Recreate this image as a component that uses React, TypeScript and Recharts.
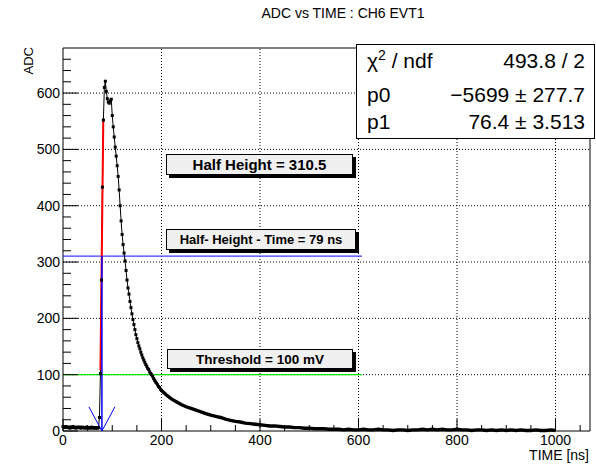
import React from 'react'
import { LineChart, Line, XAxis, YAxis, ReferenceLine, ReferenceArea } from 'recharts'

// waveform sampled every 2 ns from 0 to 200 ns
const PULSE_STEP_NS = 2
const PULSE_ADC = [
  8, 7, 6, 8, 7, 6, 7, 5, 7, 6,
  8, 6, 7, 5, 6, 7, 6, 7, 5, 6,
  7, 6, 5, 6, 7, 5, 6, 6, 5, 7,
  6, 5, 6, 5, 6, 5, 6, 24, 102, 268,
  433, 552, 610, 621, 603, 590, 584, 582, 586, 589,
  560, 540, 522, 504, 488, 471, 452, 428, 400, 373,
  349, 331, 316, 302, 285, 268, 254, 243, 230, 219,
  208, 198, 189, 180, 171, 164, 157, 151, 146, 140,
  135, 130, 126, 122, 118, 115, 111, 109, 105, 102,
  100, 97, 93, 90, 87, 85, 82, 79, 77, 74,
  72,
]

// tail, read every 10 ns from 200 to 1000 ns
const TAIL_START_NS = 200
const TAIL_STEP_NS = 10
const TAIL_ADC = [
  72, 64, 57, 52, 47, 43, 40, 37, 34, 31,
  28, 26, 24, 21, 19, 17, 16, 14, 13, 12,
  11, 10, 9, 9, 8, 7, 7, 6, 6, 5,
  5, 4, 4, 4, 3, 3, 3, 2, 3, 2,
  2, 3, 2, 2, 3, 2, 2, 1, 2, 2,
  1, 2, 2, 3, 2, 3, 2, 3, 2, 2,
  3, 2, 2, 1, 2, 2, 1, 2, 1, 2,
  1, 2, 1, 2, 1, 1, 2, 1, 1, 2,
  1,
]

// linear fit on the rising edge
const FIT_TIME = [76, 81.8]
const FIT_ADC = [108, 551]

const HALF_HEIGHT = 310.5
const HALF_TIME = 79
const THRESHOLD = 100
const MARK_END_NS = 607

const X_MAJOR = [0, 200, 400, 600, 800, 1000]
const X_TICKS = [0, 50, 100, 150, 200, 250, 300, 350, 400, 450, 500, 550, 600, 650, 700, 750, 800, 850, 900, 950, 1000, 1050]
const Y_MAJOR = [0, 100, 200, 300, 400, 500, 600]
const Y_TICKS = [
  0, 20, 40, 60, 80, 100, 120, 140, 160, 180, 200, 220, 240, 260, 280, 300, 320, 340,
  360, 380, 400, 420, 440, 460, 480, 500, 520, 540, 560, 580, 600, 620, 640, 660,
]

const X_MAX = 1070
const Y_MAX = 680

const FONT = '"Liberation Sans", Arial, Helvetica, sans-serif'

const pulseData = PULSE_ADC.map((adc, i) => ({ t: i * PULSE_STEP_NS, adc }))
const tailData = TAIL_ADC.map((adc, i) => ({ t: TAIL_START_NS + i * TAIL_STEP_NS, adc }))
const fitData = FIT_TIME.map((t, i) => ({ t, adc: FIT_ADC[i] }))

function renderXTick(props: any) {
  const { x, y, payload, index } = props
  const v = payload.value
  const major = X_MAJOR.includes(v)
  return (
    <g key={'xt' + index}>
      <line x1={x} x2={x} y1={y} y2={y - (major ? 12 : 6)} stroke="#000" />
      {major && (
        <text x={x} y={y + 14} textAnchor="middle" fontSize={14} fill="#000">
          {v}
        </text>
      )}
    </g>
  )
}

function renderYTick(props: any) {
  const { x, y, payload, index } = props
  const v = payload.value
  const major = Y_MAJOR.includes(v)
  return (
    <g key={'yt' + index}>
      <line x1={x} x2={x + (major ? 15 : 8)} y1={y} y2={y} stroke="#000" />
      {major && (
        <text x={x - 3} y={y + 5} textAnchor="end" fontSize={14} fill="#000">
          {v}
        </text>
      )}
    </g>
  )
}

function SquareDot(props: any) {
  const { cx, cy, index } = props
  if (cx == null || cy == null) return <g key={index} />
  return <rect key={index} x={cx - 1.5} y={cy - 1.5} width={3} height={3} fill="#000" />
}

function LabelBox({ left, top, width, height, fontSize, children }: any) {
  return (
    <div
      style={{
        position: 'absolute',
        left,
        top,
        width,
        height,
        boxSizing: 'border-box',
        border: '1px solid #000',
        background: '#f0f0f0',
        boxShadow: '3px 3px 0 #000',
        display: 'flex',
        alignItems: 'center',
        justifyContent: 'center',
        fontWeight: 700,
        fontSize,
        color: '#000',
        whiteSpace: 'nowrap',
      }}
    >
      {children}
    </div>
  )
}

function StatRow({ top, label, value }: any) {
  return (
    <div
      style={{
        position: 'absolute',
        left: 367,
        width: 218,
        top,
        height: 21,
        lineHeight: '21px',
        fontSize: 21,
        display: 'flex',
        justifyContent: 'space-between',
        whiteSpace: 'nowrap',
      }}
    >
      <span>{label}</span>
      <span>{value}</span>
    </div>
  )
}

export default function App() {
  return (
    <div
      style={{
        position: 'absolute',
        left: 0,
        top: 0,
        width: 596,
        height: 466,
        background: '#fff',
        fontFamily: FONT,
        color: '#000',
      }}
    >
      <LineChart width={596} height={466} margin={{ top: 48, right: 6, bottom: 0, left: 0 }}>
        <XAxis
          type="number"
          dataKey="t"
          domain={[0, X_MAX]}
          ticks={X_TICKS}
          interval={0}
          tick={renderXTick}
          tickLine={false}
          tickSize={0}
          tickMargin={0}
          axisLine={false}
          height={35}
        />
        <YAxis
          type="number"
          domain={[0, Y_MAX]}
          ticks={Y_TICKS}
          interval={0}
          tick={renderYTick}
          tickLine={false}
          tickSize={0}
          tickMargin={0}
          axisLine={false}
          width={63}
        />
        {X_MAJOR.filter((v) => v > 0).map((v) => (
          <ReferenceLine key={'gx' + v} x={v} stroke="#000" strokeDasharray="1 2" />
        ))}
        {Y_MAJOR.filter((v) => v > 0).map((v) => (
          <ReferenceLine key={'gy' + v} y={v} stroke="#000" strokeDasharray="1 2" />
        ))}
        <ReferenceArea x1={0} x2={X_MAX} y1={0} y2={Y_MAX} fill="#fff" fillOpacity={0} stroke="#000" strokeWidth={1} />
        <ReferenceLine
          segment={[{ x: 0, y: THRESHOLD }, { x: MARK_END_NS, y: THRESHOLD }]}
          stroke="#00e600"
          strokeWidth={1.3}
        />
        <ReferenceLine
          segment={[{ x: 0, y: HALF_HEIGHT }, { x: MARK_END_NS, y: HALF_HEIGHT }]}
          stroke="#3c3cff"
          strokeWidth={1.3}
        />
        <Line
          data={tailData}
          dataKey="adc"
          stroke="#000"
          strokeWidth={3.4}
          dot={false}
          isAnimationActive={false}
        />
        <Line
          data={pulseData}
          dataKey="adc"
          stroke="#000"
          strokeWidth={1}
          dot={SquareDot}
          isAnimationActive={false}
        />
        <Line
          data={fitData}
          dataKey="adc"
          stroke="#ff0000"
          strokeWidth={2}
          dot={false}
          isAnimationActive={false}
        />
        <ReferenceLine
          segment={[{ x: HALF_TIME, y: 0 }, { x: HALF_TIME, y: HALF_HEIGHT }]}
          stroke="#0000ff"
          strokeWidth={1.5}
        />
        <ReferenceLine segment={[{ x: HALF_TIME - 26.5, y: 43 }, { x: HALF_TIME, y: 0 }]} stroke="#0000ff" strokeWidth={1} />
        <ReferenceLine segment={[{ x: HALF_TIME, y: 0 }, { x: HALF_TIME + 26.5, y: 43 }]} stroke="#0000ff" strokeWidth={1} />
      </LineChart>

      <svg width={596} height={466} style={{ position: 'absolute', left: 0, top: 0, pointerEvents: 'none' }}>
        <text x={343} y={18} textAnchor="middle" fontSize={14} fill="#000">
          ADC vs TIME : CH6 EVT1
        </text>
        <text transform="translate(33,47) rotate(-90)" textAnchor="end" fontSize={13} fill="#000">
          ADC
        </text>
        <text x={589} y={460} textAnchor="end" fontSize={14} fill="#000">
          TIME [ns]
        </text>
      </svg>

      <div
        style={{
          position: 'absolute',
          left: 356,
          top: 44,
          width: 239,
          height: 95,
          boxSizing: 'border-box',
          border: '1px solid #000',
          background: '#fff',
        }}
      />
      <StatRow
        top={50}
        label={
          <>
            χ<span style={{ fontSize: 14, position: 'relative', top: -8 }}>2</span> / ndf
          </>
        }
        value="493.8 / 2"
      />
      <StatRow top={84} label="p0" value="−5699 ± 277.7" />
      <StatRow top={111} label="p1" value="76.4 ± 3.513" />

      <LabelBox left={166} top={154} width={187} height={21} fontSize={15}>
        Half Height = 310.5
      </LabelBox>
      <LabelBox left={166} top={229} width={190} height={21} fontSize={13}>
        Half- Height - Time = 79 ns
      </LabelBox>
      <LabelBox left={167} top={349} width={186} height={20} fontSize={13.5}>
        Threshold = 100 mV
      </LabelBox>
    </div>
  )
}
